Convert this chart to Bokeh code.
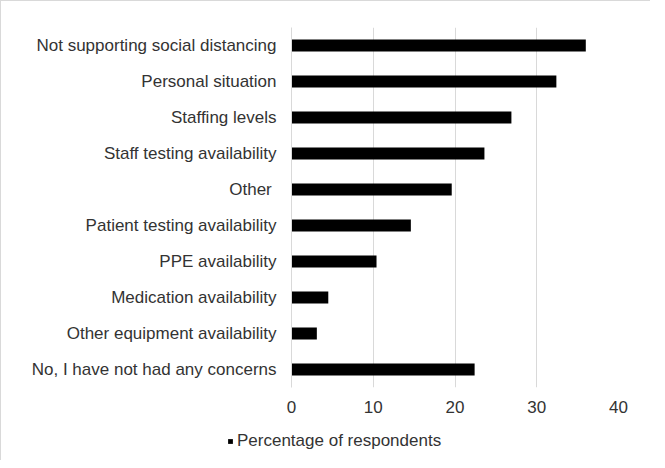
from bokeh.plotting import figure
from bokeh.models import ColumnDataSource, Range1d, Legend, LegendItem, FactorRange
from bokeh.layouts import column
from bokeh.embed import file_html
from bokeh.resources import INLINE

categories = [
    "Not supporting social distancing",
    "Personal situation",
    "Staffing levels",
    "Staff testing availability",
    "Other ",
    "Patient testing availability",
    "PPE availability",
    "Medication availability",
    "Other equipment availability",
    "No, I have not had any concerns",
]
percentages = [36.0, 32.4, 26.9, 23.6, 19.6, 14.6, 10.4, 4.5, 3.1, 22.4]
x_ticks = [0, 10, 20, 30, 40]
series_name = "Percentage of respondents"

FONT = "Liberation Sans"
TEXT = "#333333"
GRID = "#d9d9d9"

src = ColumnDataSource(dict(cat=categories, val=percentages))

p = figure(
    width=649, height=419,
    y_range=FactorRange(*list(reversed(categories)), range_padding=0),
    x_range=Range1d(0, 40),
    output_backend="svg", toolbar_location=None,
    min_border_left=290, min_border_top=26, min_border_right=32, min_border_bottom=33,
)
p.frame_align = False
p.outline_line_color = None

p.hbar(y="cat", right="val", left=0, height=0.33, source=src,
       fill_color="black", line_color=None)

p.xaxis.ticker = x_ticks
p.xaxis.axis_line_color = None
p.xaxis.major_tick_line_color = None
p.xaxis.minor_tick_line_color = None
p.xaxis.major_tick_out = 0
p.xaxis.major_tick_in = 0
p.xaxis.major_label_standoff = 13
p.xaxis.major_label_text_font = FONT
p.xaxis.major_label_text_font_size = "17px"
p.xaxis.major_label_text_color = TEXT

p.yaxis.axis_line_color = GRID
p.yaxis.major_tick_line_color = None
p.yaxis.major_tick_out = 0
p.yaxis.major_tick_in = 0
p.yaxis.major_label_standoff = 15
p.yaxis.major_label_text_font = FONT
p.yaxis.major_label_text_font_size = "17px"
p.yaxis.major_label_text_color = TEXT

p.xgrid.grid_line_color = GRID
p.ygrid.grid_line_color = None

# legend strip below the chart
q = figure(
    width=649, height=40,
    x_range=Range1d(0, 649), y_range=Range1d(0, 40),
    x_axis_type=None, y_axis_type=None,
    output_backend="svg", toolbar_location=None,
    min_border=0,
)
q.frame_align = False
q.outline_line_color = None
q.xgrid.visible = False
q.ygrid.visible = False
# legend key renderer: a zero-length bar placed outside the visible range
key = q.hbar(y=[-100], right=[0], left=0, height=1,
             fill_color="black", line_color=None)

legend = Legend(
    items=[LegendItem(label=series_name, renderers=[key])],
    location=(226, 9),
    orientation="horizontal",
    glyph_width=6, glyph_height=6, label_height=16,
    label_standoff=4, padding=0, margin=0, spacing=0,
    border_line_color=None, background_fill_alpha=0,
    label_text_font=FONT, label_text_font_size="17px", label_text_color=TEXT,
)
q.add_layout(legend, "center")

layout = column(p, q, spacing=0,
                styles={"border-top": "1px solid #d9d9d9", "border-left": "1px solid #d9d9d9"})

open("out.html", "w").write(file_html(layout, INLINE))
